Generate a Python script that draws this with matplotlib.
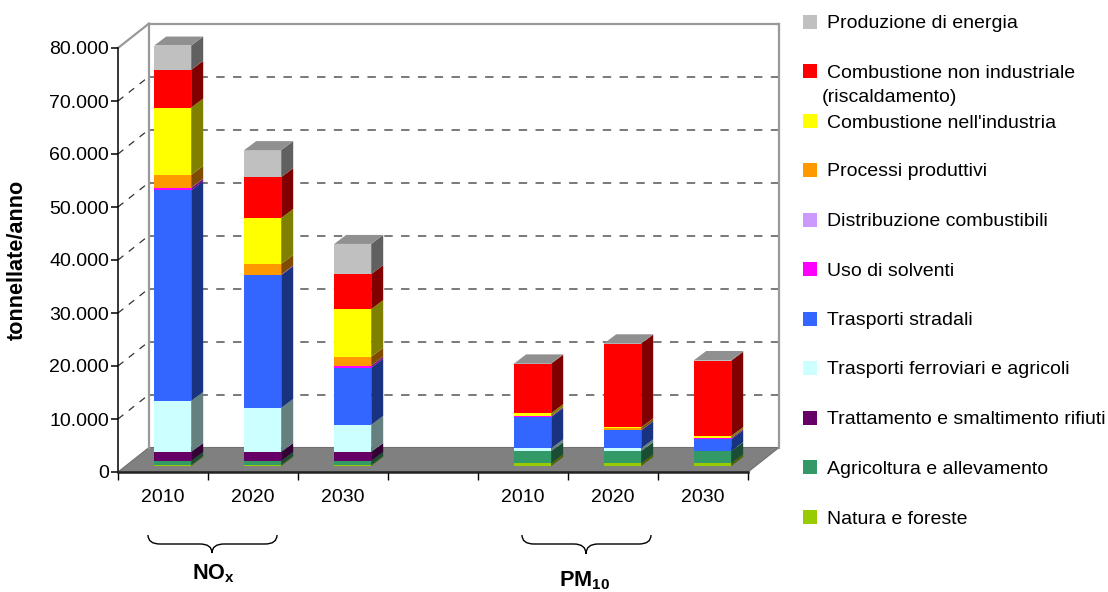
import numpy as np
import matplotlib
matplotlib.use("Agg")
import matplotlib.pyplot as plt
from matplotlib.patches import Polygon, PathPatch, Rectangle
from matplotlib.path import Path

plt.rcParams['font.family'] = ['Liberation Sans', 'DejaVu Sans']
plt.rcParams['mathtext.fontset'] = 'custom'
plt.rcParams['mathtext.bf'] = 'Liberation Sans:bold'
plt.rcParams['mathtext.rm'] = 'Liberation Sans'

# Categorie: NOx 2010-2030, uno spazio vuoto, PM10 2010-2030
anni = ['2010', '2020', '2030', '', '2010', '2020', '2030']
posizioni = [0, 1, 2, 4, 5, 6]

# Settori dal basso verso l'alto (tonnellate/anno)
natura = [200, 200, 200, 500, 500, 500]
agricoltura = [750, 750, 750, 2270, 2270, 2270]
rifiuti = [1690, 1690, 1690, 30, 30, 0]
ferroviari = [9620, 8300, 5100, 530, 530, 30]
stradali = [39800, 25060, 10810, 5920, 3400, 2230]
solventi = [420, 100, 350, 150, 20, 220]
distribuzione = [50, 30, 30, 10, 10, 0]
processi = [2400, 2000, 1670, 0, 490, 0]
industria = [12700, 8670, 9000, 550, 50, 400]
riscaldamento = [7100, 7700, 6600, 9350, 15800, 14200]
energia = [4600, 5100, 5700, 50, 50, 150]

settori = [natura, agricoltura, rifiuti, ferroviari, stradali, solventi,
           distribuzione, processi, industria, riscaldamento, energia]
colori = ['#99CC00', '#339966', '#660066', '#CCFFFF', '#3366FF', '#FF00FF',
          '#CC99FF', '#FF9900', '#FFFF00', '#FF0000', '#C0C0C0']

# Legenda, dall'alto verso il basso
etichette = ['Produzione di energia',
             'Combustione non industriale\n(riscaldamento)',
             "Combustione nell'industria",
             'Processi produttivi',
             'Distribuzione combustibili',
             'Uso di solventi',
             'Trasporti stradali',
             'Trasporti ferroviari e agricoli',
             'Trattamento e smaltimento rifiuti',
             'Agricoltura e allevamento',
             'Natura e foreste']
legenda_y = [22, 71, 121, 170, 220, 269, 319, 368, 418, 467, 517]

tacche_y = list(range(0, 90000, 10000))
tacche_lab = ['0', '10.000', '20.000', '30.000', '40.000', '50.000', '60.000', '70.000', '80.000']

W, H = 1108, 592
FS = 14
FS_B = 15.6
fig = plt.figure(figsize=(W / 100, H / 100), dpi=100)
ax = fig.add_axes([118 / W, (H - 472) / H, 630 / W, 424 / H])
ax.set_xlim(-0.5, 6.5)
ax.set_ylim(0, 80000)

# px -> unita' dati
ux = 7 / 630
uy = 80000 / 424
PROF_X, PROF_Y = 31 * ux, 24.5 * uy  # profondita' della scena


def piega(xs, ys, **kw):
    ax.add_patch(Polygon(list(zip(xs, ys)), closed=True, clip_on=False, **kw))


def scuro(colore, f):
    r, g, b = matplotlib.colors.to_rgb(colore)
    return (r * f, g * f, b * f)


# pavimento
piega([-0.5, 6.5, 6.5 + PROF_X, -0.5 + PROF_X], [0, 0, PROF_Y, PROF_Y],
      facecolor='#808080', edgecolor='#707070', linewidth=0.8, zorder=1)

# griglia sulla parete di fondo e sulla parete laterale
for v in tacche_y[1:-1]:
    ax.plot([-0.5 + PROF_X, 6.5 + PROF_X], [v + PROF_Y, v + PROF_Y], color='#555555',
            lw=1.1, dashes=(5.5, 5.5), clip_on=False, zorder=1)
    ax.plot([-0.5, -0.5 + PROF_X], [v, v + PROF_Y], color='#333333',
            lw=0.9, dashes=(5.5, 5.5), clip_on=False, zorder=1)

# contorno delle pareti
bordo = dict(color='#999999', lw=1.6, clip_on=False, zorder=1, solid_capstyle='projecting')
ax.plot([-0.5 + PROF_X] * 2, [PROF_Y, 80000 + PROF_Y], **bordo)
ax.plot([6.5 + PROF_X] * 2, [PROF_Y, 80000 + PROF_Y], **bordo)
ax.plot([-0.5 + PROF_X, 6.5 + PROF_X], [80000 + PROF_Y] * 2, **bordo)
ax.plot([-0.5, -0.5 + PROF_X], [80000, 80000 + PROF_Y], **bordo)

# barre 3D impilate
larg = 37 * ux
sx, sy = 12 * ux, 9 * uy
off_x, off_y = 9.7 * ux, 6 * uy
for i, pos in enumerate(posizioni):
    x0 = pos + off_x - larg / 2
    x1 = x0 + larg
    base = 0
    ultimo = None
    for serie, col in zip(settori, colori):
        v = serie[i]
        if v <= 0:
            continue
        y0, y1 = base + off_y, base + v + off_y
        ax.add_patch(Rectangle((x0, y0), larg, v, facecolor=col, edgecolor='none',
                               clip_on=False, zorder=3))
        piega([x1, x1 + sx, x1 + sx, x1], [y0, y0 + sy, y1 + sy, y1],
              facecolor=scuro(col, 0.5), edgecolor='none', zorder=3)
        base += v
        ultimo = col
    y1 = base + off_y
    piega([x0, x1, x1 + sx, x0 + sx], [y1, y1, y1 + sy, y1 + sy],
          facecolor=scuro(ultimo, 0.75), edgecolor='none', zorder=3)

# assi
for s in ['top', 'right']:
    ax.spines[s].set_visible(False)
ax.patch.set_visible(False)
ax.spines['left'].set_linewidth(1.1)
ax.spines['bottom'].set_linewidth(1.8)
ax.spines['bottom'].set_color('#222222')
ax.spines['left'].set_zorder(5)
ax.spines['bottom'].set_zorder(5)

ax.set_yticks(tacche_y)
ax.set_yticklabels(tacche_lab, fontsize=FS)
ax.tick_params(axis='y', length=5, width=1.1, pad=1.5)

ax.set_xticks(np.arange(7))
ax.set_xticklabels(anni, fontsize=FS)
ax.set_xticks(np.arange(-0.5, 7), minor=True)
ax.tick_params(axis='x', which='major', length=0, pad=12.5)
ax.tick_params(axis='x', which='minor', length=5.5, width=1.0)

fig.text(17 / W, 1 - 260 / H, 'tonnellate/anno', rotation=90, fontsize=FS_B,
         fontweight='bold', ha='center', va='center')

# legenda a destra, in pixel di figura
pix = fig.transFigure
for lab, ly, col in zip(etichette, legenda_y, colori[::-1]):
    fig.add_artist(Rectangle((803 / W, 1 - (ly + 7) / H), 14 / W, 14 / H, facecolor=col,
                             edgecolor='none', transform=pix))
    righe = lab.split('\n')
    fig.text(827 / W, 1 - (ly + 6.5) / H, righe[0], fontsize=FS, va='baseline', ha='left')
    if len(righe) > 1:
        fig.text(822 / W, 1 - (ly + 30.5) / H, righe[1], fontsize=FS, va='baseline', ha='left')


def graffa(xa, xb, xm, ya, ym, yt):
    # parentesi graffa orizzontale sotto le categorie
    verts = [(xa, ya), (xa, ym), (xa + 12, ym), (xm - 12, ym), (xm, ym), (xm, yt),
             (xm, ym), (xm + 12, ym), (xb - 12, ym), (xb, ym), (xb, ya)]
    codes = [Path.MOVETO, Path.CURVE3, Path.CURVE3, Path.LINETO, Path.CURVE3, Path.CURVE3,
             Path.CURVE3, Path.CURVE3, Path.LINETO, Path.CURVE3, Path.CURVE3]
    verts = [(x / W, 1 - y / H) for x, y in verts]
    fig.add_artist(PathPatch(Path(verts, codes), facecolor='none', edgecolor='black',
                             lw=1.0, transform=pix))


graffa(148, 277, 212, 535, 544, 553)
graffa(522, 651, 586, 535, 544, 554)

fig.text(213 / W, 1 - 574 / H, r'NO$_{\mathbf{x}}$', fontsize=FS_B, fontweight='bold', ha='center', va='center')
fig.text(584 / W, 1 - 581 / H, r'PM$_{\mathbf{10}}$', fontsize=FS_B, fontweight='bold', ha='center', va='center')

fig.savefig('out.png', dpi=100)
